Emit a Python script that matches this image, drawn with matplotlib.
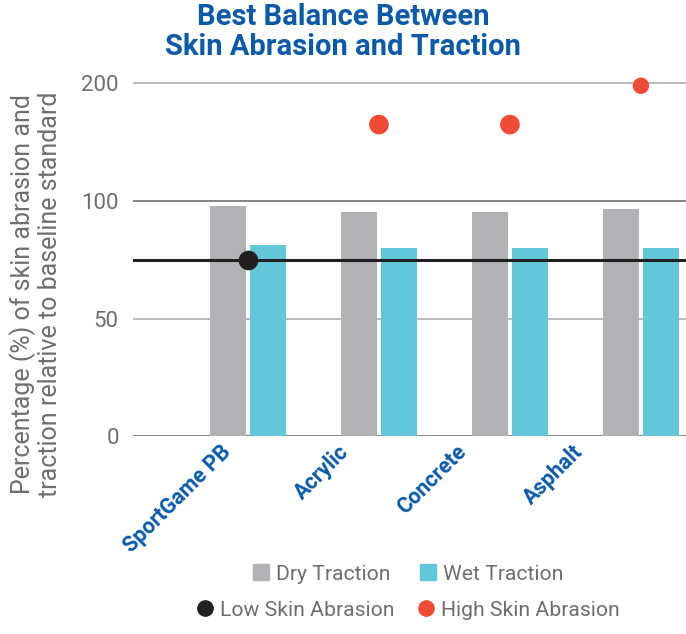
import numpy as np
import matplotlib.pyplot as plt
from matplotlib.lines import Line2D

# data
categories = ["SportGame PB", "Acrylic", "Concrete", "Asphalt"]
dry_traction = [98, 95.5, 95.5, 96.5]
wet_traction = [81.5, 80, 80, 80]
low_abrasion = [75, np.nan, np.nan, np.nan]
high_abrasion = [np.nan, 165, 165, 198]
baseline = 75
yticks = [0, 50, 100, 200]

BLUE = "#0a5aa8"
GRAY = "#b1b2b6"
CYAN = "#63c7d9"
RED = "#f04b37"
BLACK = "#231f20"
TXT = "#6d6e71"

plt.rcParams["font.family"] = ["Roboto", "DejaVu Sans"]


# axis is squeezed above 100 (100 -> 200 takes the same room as 0 -> 50)
def fwd(v):
    v = np.asarray(v, dtype=float)
    return np.where(v <= 100, v, 100 + (v - 100) / 2)


def inv(v):
    v = np.asarray(v, dtype=float)
    return np.where(v <= 100, v, 100 + (v - 100) * 2)


fig = plt.figure(figsize=(6.86, 6.34), dpi=100)
ax = fig.add_axes([0.1934, 0.3118, 0.8066, 0.5715])
ax.set_yscale("function", functions=(fwd, inv))

x = np.arange(len(categories))
w = 0.28
ax.bar(x - 0.153, dry_traction, w, color=GRAY, zorder=2)
ax.bar(x + 0.153, wet_traction, w, color=CYAN, zorder=2)
ax.axhline(baseline, color=BLACK, lw=2.2, zorder=3)
ax.scatter(x, low_abrasion, s=200, color=BLACK, zorder=4, linewidths=0)
ax.scatter(x, high_abrasion, s=[200, 200, 200, 140], color=RED, zorder=4,
           linewidths=0)

ax.set_xlim(-0.88, 3.344)
ax.set_ylim(0, 208)
ax.set_yticks(yticks)
ax.set_yticklabels([str(t) for t in yticks], color=TXT, fontsize=16)
ax.tick_params(axis="y", length=0, pad=10)
ax.yaxis.grid(True, color="#b4b4b4", lw=1.3, zorder=0)
for t, gl in zip(yticks, ax.yaxis.get_gridlines()):
    if t in (0, 100):
        gl.set_color("#7d7d7d")
for s in ax.spines.values():
    s.set_visible(False)

# labels sit a little left of each group
ax.set_xticks(-0.21 + 0.895 * x)
ax.set_xticklabels(categories, rotation=45, ha="right", va="top",
                   rotation_mode="anchor", color=BLUE, fontsize=15.5,
                   fontweight="bold")
ax.tick_params(axis="x", length=0, pad=3)

fig.text(0.5, 1 - 32 / 634, "Best Balance Between\nSkin Abrasion and Traction",
         ha="center", va="center", color=BLUE, fontsize=21,
         fontweight="bold", linespacing=1.05)
fig.text(36 / 686, 1 - 294 / 634,
         "Percentage (%) of skin abrasion and\ntraction relative to baseline standard",
         rotation=90, ha="center", va="center", color=TXT, fontsize=18,
         linespacing=1.1)

row1 = [Line2D([], [], ls="", marker="s", ms=11, color=GRAY, label="Dry Traction"),
        Line2D([], [], ls="", marker="s", ms=11, color=CYAN, label="Wet Traction")]
row2 = [Line2D([], [], ls="", marker="o", ms=11, color=BLACK, label="Low Skin Abrasion"),
        Line2D([], [], ls="", marker="o", ms=11, color=RED, label="High Skin Abrasion")]
for h, yy, cs in [(row1, 574, 1.4), (row2, 610, 1.1)]:
    lg = fig.legend(handles=h, ncol=2, loc="center",
                    bbox_to_anchor=(408 / 686, 1 - yy / 634), frameon=False,
                    fontsize=15.2, handlelength=0.8, handletextpad=0.3,
                    columnspacing=cs, borderpad=0)
    for t in lg.get_texts():
        t.set_color(TXT)

fig.savefig("out.png", dpi=100)
